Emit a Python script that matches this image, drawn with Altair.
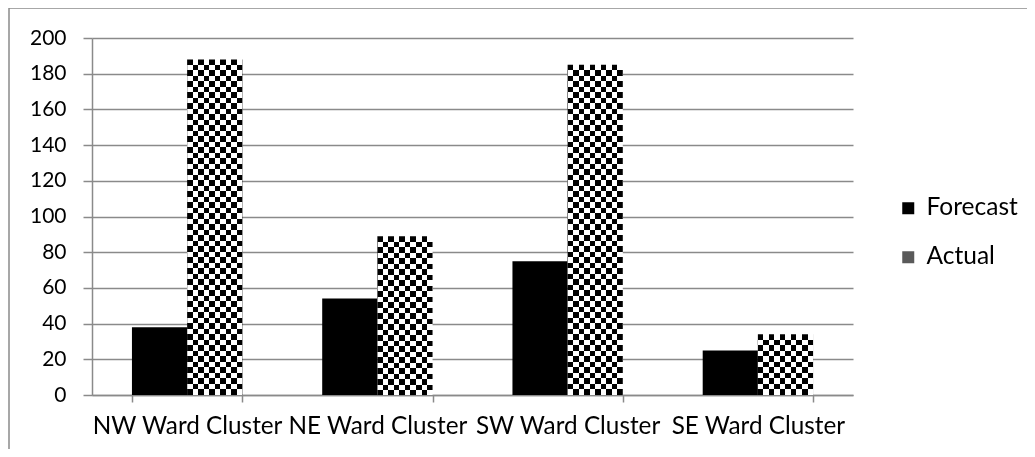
import altair as alt
import pandas as pd

clusters = ["NW Ward Cluster", "NE Ward Cluster", "SW Ward Cluster", "SE Ward Cluster"]
series = ["Forecast", "Actual"]
forecast = [38, 54, 75, 25]
actual = [188, 89, 185, 34]

rows = []
for c, f, a in zip(clusters, forecast, actual):
    rows.append({"cluster": c, "series": "Forecast", "value": f})
    rows.append({"cluster": c, "series": "Actual", "value": a})
df = pd.DataFrame(rows)

FONT = "Lato"
GRID = "#8a8a8a"
PLOT_W, PLOT_H, Y_MAX = 761, 357, 200
CELL = 5.5  # checker cell size in px


def stripe_stops(frac):
    """Alternating black/white stops, each band `frac` of the box long."""
    stops = []
    i, start = 0, 0.0
    while start < 1.0:
        end = min(1.0, start + frac)
        col = "#000000" if i % 2 == 0 else "#ffffff"
        stops.append(alt.GradientStop(color=col, offset=round(start, 5)))
        stops.append(alt.GradientStop(color=col, offset=round(end, 5)))
        start = end
        i += 1
    return stops


def v_stripes():
    return alt.LinearGradient(gradient="linear", stops=stripe_stops(0.1), x1=0, x2=1, y1=0, y2=0)


def h_stripes(value):
    px = value * PLOT_H / Y_MAX
    return alt.LinearGradient(gradient="linear", stops=stripe_stops(CELL / px), x1=0, x2=0, y1=0, y2=1)


x_enc = alt.X(
    "cluster:N",
    sort=clusters,
    scale=alt.Scale(paddingInner=0.42, paddingOuter=0.21),
    axis=alt.Axis(
        title=None, labelAngle=0, tickBand="extent", tickSize=7, tickColor=GRID,
        domainColor=GRID, domainWidth=1.5, tickWidth=1.5, labelFont=FONT,
        labelFontSize=24.3, labelColor="#000", labelPadding=12, grid=False,
        labelLimit=400, labelOverlap=False, labelBound=False,
    ),
)
xoff = alt.XOffset("series:N", scale=alt.Scale(domain=series))
y_enc = alt.Y(
    "value:Q",
    scale=alt.Scale(domain=[0, Y_MAX]),
    axis=alt.Axis(
        title=None, values=list(range(0, 201, 20)), tickSize=9, tickColor=GRID,
        domainColor=GRID, domainWidth=1.5, tickWidth=1.5, gridColor=GRID,
        gridWidth=1.5, labelFont=FONT, labelFontSize=21, labelColor="#000",
        labelPadding=17,
    ),
)

base = alt.Chart(df)

fc = base.transform_filter(alt.datum.series == "Forecast").mark_bar(color="#000").encode(
    x=x_enc,
    xOffset=xoff,
    y=y_enc,
    color=alt.Color(
        "series:N",
        scale=alt.Scale(domain=series, range=["#000000", "#5a5a5a"]),
        legend=alt.Legend(title=None),
    ),
)

act_v = base.transform_filter(alt.datum.series == "Actual").mark_bar(
    fill=v_stripes()
).encode(x=x_enc, xOffset=xoff, y=y_enc)

act_h_layers = []
for c, a in zip(clusters, actual):
    act_h_layers.append(
        base.transform_filter((alt.datum.series == "Actual") & (alt.datum.cluster == c))
        .mark_bar(fill=h_stripes(a), blend="difference")
        .encode(x=x_enc, xOffset=xoff, y=y_enc)
    )

one = alt.Data(values=[{}])
left_border = alt.Chart(one).mark_rule(color=GRID, strokeWidth=1.5).encode(
    x=alt.value(-83), y=alt.value(-30), y2=alt.value(600)
)
top_border = alt.Chart(one).mark_rule(color=GRID, strokeWidth=1.5).encode(
    x=alt.value(-83), x2=alt.value(1100), y=alt.value(-30)
)

chart = (
    alt.layer(fc, act_v, *act_h_layers, left_border, top_border)
    .properties(
        width=PLOT_W,
        height=PLOT_H,
        background="white",
        autosize=alt.AutoSizeParams(type="none"),
        padding={"left": 84, "top": 30, "right": 174, "bottom": 54},
    )
    .configure_view(stroke=None)
    .configure_legend(
        orient="none", legendX=804, legendY=158, symbolType="square",
        symbolSize=144, symbolStrokeWidth=0, labelFont=FONT, labelFontSize=24.5,
        labelColor="#000", labelOffset=6, rowPadding=24,
    )
)

chart.save("out.html", embed_options={"renderer": "svg", "actions": False})
